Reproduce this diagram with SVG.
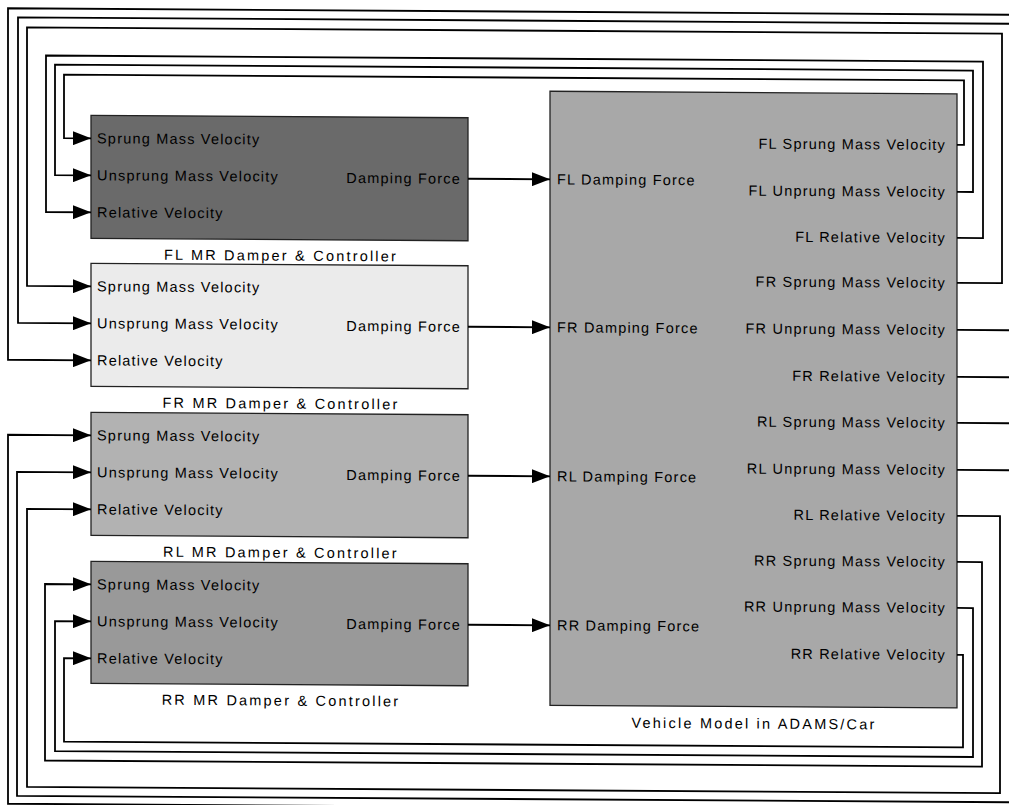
<svg xmlns="http://www.w3.org/2000/svg" width="1009" height="805" viewBox="0 0 1009 805">
<defs>
<marker id="arr" markerUnits="userSpaceOnUse" markerWidth="18" markerHeight="14" refX="18" refY="7" orient="auto" viewBox="0 0 18 14"><path d="M0,0 L18,7 L0,14 z" fill="#000"/></marker>
<style>
.w{fill:none;stroke:#000;stroke-width:1.8}
.a{marker-end:url(#arr)}
.blk{stroke:#222;stroke-width:1.3}
.t{font-family:"Liberation Sans",Arial,sans-serif;font-size:14.5px;letter-spacing:1.2px;fill:#000}
.e{text-anchor:end}
.lab{font-family:"Liberation Sans",Arial,sans-serif;font-size:14.5px;letter-spacing:2.2px;fill:#000;text-anchor:middle}
</style>
</defs>
<rect width="1009" height="805" fill="#fff"/>
<g transform="matrix(1 0.0065 0 1 0 -3.3)">
<g id="fl">
<rect class="blk" x="91" y="118" width="377" height="123" fill="#6a6a6a"/>
<text class="t" x="97" y="146">Sprung Mass Velocity</text>
<text class="t" x="97" y="183">Unsprung Mass Velocity</text>
<text class="t" x="97" y="220">Relative Velocity</text>
<text class="t e" x="461" y="184">Damping Force</text>
<text class="lab" x="281" y="262">FL MR Damper &amp; Controller</text>
</g>
<g id="fr">
<rect class="blk" x="91" y="266" width="377" height="123" fill="#ebebeb"/>
<text class="t" x="97" y="294">Sprung Mass Velocity</text>
<text class="t" x="97" y="331">Unsprung Mass Velocity</text>
<text class="t" x="97" y="368">Relative Velocity</text>
<text class="t e" x="461" y="332">Damping Force</text>
<text class="lab" x="281" y="410">FR MR Damper &amp; Controller</text>
</g>
<g id="rl">
<rect class="blk" x="91" y="415" width="377" height="123" fill="#b2b2b2"/>
<text class="t" x="97" y="443">Sprung Mass Velocity</text>
<text class="t" x="97" y="480">Unsprung Mass Velocity</text>
<text class="t" x="97" y="517">Relative Velocity</text>
<text class="t e" x="461" y="481">Damping Force</text>
<text class="lab" x="281" y="559">RL MR Damper &amp; Controller</text>
</g>
<g id="rr">
<rect class="blk" x="91" y="564" width="377" height="122" fill="#999999"/>
<text class="t" x="97" y="592">Sprung Mass Velocity</text>
<text class="t" x="97" y="629">Unsprung Mass Velocity</text>
<text class="t" x="97" y="666">Relative Velocity</text>
<text class="t e" x="461" y="630">Damping Force</text>
<text class="lab" x="281" y="707">RR MR Damper &amp; Controller</text>
</g>
<g id="vehicle">
<rect class="blk" x="550" y="91" width="407" height="614" fill="#a8a8a8"/>
<text class="t" x="557" y="184">FL Damping Force</text>
<text class="t" x="557" y="332">FR Damping Force</text>
<text class="t" x="557" y="481">RL Damping Force</text>
<text class="t" x="557" y="630">RR Damping Force</text>
<text class="t e" x="946" y="147">FL Sprung Mass Velocity</text>
<text class="t e" x="946" y="194">FL Unprung Mass Velocity</text>
<text class="t e" x="946" y="240">FL Relative Velocity</text>
<text class="t e" x="946" y="285">FR Sprung Mass Velocity</text>
<text class="t e" x="946" y="332">FR Unprung Mass Velocity</text>
<text class="t e" x="946" y="379">FR Relative Velocity</text>
<text class="t e" x="946" y="425">RL Sprung Mass Velocity</text>
<text class="t e" x="946" y="472">RL Unprung Mass Velocity</text>
<text class="t e" x="946" y="518">RL Relative Velocity</text>
<text class="t e" x="946" y="564">RR Sprung Mass Velocity</text>
<text class="t e" x="946" y="610">RR Unprung Mass Velocity</text>
<text class="t e" x="946" y="657">RR Relative Velocity</text>
<text class="lab" x="754" y="727">Vehicle Model in ADAMS/Car</text>
</g>
<g id="connectors">
<path class="w a" d="M468,179 H550"/>
<path class="w a" d="M468,327 H550"/>
<path class="w a" d="M468,476 H550"/>
<path class="w a" d="M468,625 H550"/>
<path class="w a" d="M957,142 H964 V77.5 H64 V141 H91"/>
<path class="w a" d="M957,189 H973 V67.5 H55 V178 H91"/>
<path class="w a" d="M957,235 H983 V58.5 H46 V215 H91"/>
<path class="w a" d="M957,280 H1002 V30.5 H27 V289 H91"/>
<path class="w" d="M957,327 H1020"/>
<path class="w a" d="M1020,20.5 H18 V326 H91"/>
<path class="w" d="M957,374 H1020"/>
<path class="w a" d="M1020,11.5 H8 V363 H91"/>
<path class="w" d="M957,420 H1020"/>
<path class="w a" d="M1020,807 H8 V438 H91"/>
<path class="w" d="M957,467 H1020"/>
<path class="w a" d="M1020,799 H17 V475 H91"/>
<path class="w a" d="M957,513 H1000 V790 H27 V512 H91"/>
<path class="w a" d="M957,559 H982 V763.5 H45 V587 H91"/>
<path class="w a" d="M957,605 H973 V754 H55 V624 H91"/>
<path class="w a" d="M957,652 H963 V744.5 H64 V661 H91"/>
</g>
</g>
</svg>
